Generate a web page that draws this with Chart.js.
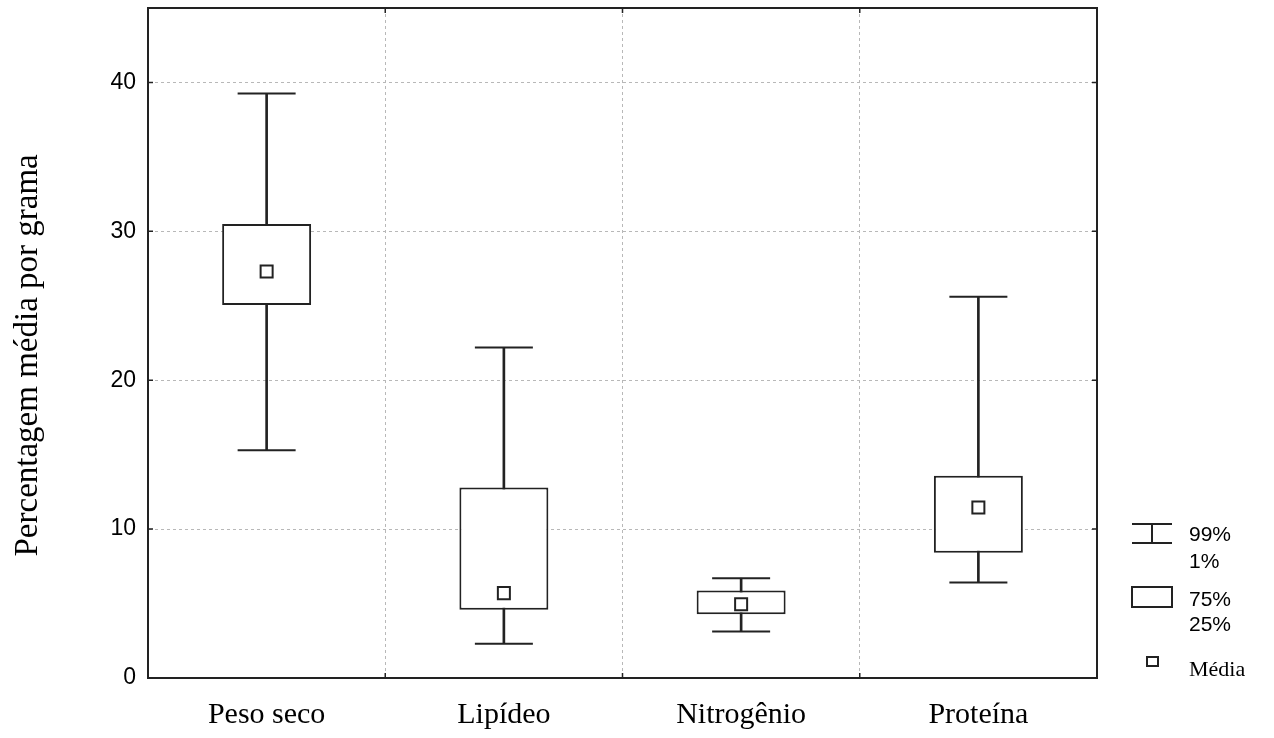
<!DOCTYPE html>
<html>
<head>
<meta charset="utf-8">
<title>Percentagem média por grama</title>
<script src="https://cdn.jsdelivr.net/npm/chart.js@4.4.1/dist/chart.umd.min.js"></script>
<style>
  html, body { margin: 0; padding: 0; background: #fff; }
  #wrap { position: relative; width: 1274px; height: 738px; }
</style>
</head>
<body>
<div id="wrap"><canvas id="box_chart"></canvas></div>
<script>
// Chart data
var categories = ['Peso seco', 'Lipídeo', 'Nitrogênio', 'Proteína'];
var p99 = [39.25, 22.2, 6.7, 25.6];
var q75 = [30.5, 12.8, 5.88, 13.58];
var means = [27.3, 5.7, 4.95, 11.45];
var q25 = [25.05, 4.58, 4.28, 8.42];
var p1 = [15.3, 2.3, 3.13, 6.42];
var yTicks = [0, 10, 20, 30, 40];

var ink = '#222';
var sansFont = '"Liberation Sans", Arial, sans-serif';
var serifFont = '"Liberation Serif", "Times New Roman", serif';

// Frame, inward tick marks and the legend
var framePlugin = {
  id: 'frame',
  afterDraw: function (chart) {
    var ctx = chart.ctx;
    var a = chart.chartArea;
    var xs = chart.scales.x;
    var ys = chart.scales.y;
    ctx.save();
    ctx.strokeStyle = ink;
    ctx.lineWidth = 2;
    ctx.strokeRect(a.left, a.top, a.right - a.left, a.bottom - a.top);

    // tick marks
    ctx.lineWidth = 1.5;
    ctx.beginPath();
    yTicks.forEach(function (v) {
      var y = ys.getPixelForValue(v);
      ctx.moveTo(a.left, y); ctx.lineTo(a.left + 5, y);
      ctx.moveTo(a.right, y); ctx.lineTo(a.right - 5, y);
    });
    for (var i = 1; i < categories.length; i++) {
      var x = (xs.getPixelForValue(i - 1) + xs.getPixelForValue(i)) / 2;
      ctx.moveTo(x, a.top); ctx.lineTo(x, a.top + 5);
      ctx.moveTo(x, a.bottom); ctx.lineTo(x, a.bottom - 5);
    }
    ctx.stroke();

    // legend
    var gx = a.right + 35;
    var gw = 40;
    var tx = a.right + 92;
    ctx.lineWidth = 2;
    ctx.beginPath();
    ctx.moveTo(gx, 524); ctx.lineTo(gx + gw, 524);
    ctx.moveTo(gx, 543); ctx.lineTo(gx + gw, 543);
    ctx.moveTo(gx + 20, 524); ctx.lineTo(gx + 20, 543);
    ctx.stroke();
    ctx.strokeRect(gx, 587, gw, 20);
    ctx.strokeRect(gx + 15, 657, 11, 9);

    ctx.fillStyle = '#000';
    ctx.textBaseline = 'middle';
    ctx.textAlign = 'left';
    ctx.font = '21px ' + sansFont;
    ctx.fillText('99%', tx, 535);
    ctx.fillText('1%', tx, 562);
    ctx.fillText('75%', tx, 600);
    ctx.fillText('25%', tx, 625);
    ctx.font = '22px ' + serifFont;
    ctx.fillText('Média', tx, 670);
    ctx.restore();
  }
};

function pairs(lo, hi) {
  return lo.map(function (v, i) { return [v, hi[i]]; });
}

var ctx = document.getElementById('box_chart');

var config = {
  type: 'bar',
  data: {
    labels: categories,
    datasets: [{
      label: '1% - 99%',
      data: pairs(p1, p99),
      backgroundColor: ink,
      borderWidth: 0,
      barThickness: 2,
      grouped: false,
      order: 4
    }, {
      label: '25% - 75%',
      data: pairs(q25, q75),
      backgroundColor: '#fff',
      borderColor: ink,
      borderWidth: 2,
      borderSkipped: false,
      categoryPercentage: 1,
      barPercentage: 0.375,
      grouped: false,
      order: 3
    }, {
      type: 'line',
      label: '99%',
      data: p99,
      showLine: false,
      pointStyle: 'line',
      pointRadius: 29,
      pointHoverRadius: 29,
      pointBorderWidth: 2,
      borderColor: ink,
      order: 2
    }, {
      type: 'line',
      label: '1%',
      data: p1,
      showLine: false,
      pointStyle: 'line',
      pointRadius: 29,
      pointHoverRadius: 29,
      pointBorderWidth: 2,
      borderColor: ink,
      order: 2
    }, {
      type: 'line',
      label: 'Média',
      data: means,
      showLine: false,
      pointStyle: 'rect',
      pointRadius: 8.5,
      pointHoverRadius: 8.5,
      pointBorderWidth: 2,
      pointBackgroundColor: '#fff',
      pointBorderColor: ink,
      order: 1
    }]
  },
  options: {
    responsive: false,
    animation: false,
    events: [],
    layout: {
      autoPadding: false,
      padding: { top: 8, right: 177, left: 0, bottom: 0 }
    },
    plugins: {
      legend: { display: false },
      tooltip: { enabled: false },
      title: { display: false }
    },
    scales: {
      x: {
        offset: true,
        grid: {
          offset: true,
          color: '#b8b8b8',
          lineWidth: 1,
          drawTicks: false
        },
        border: { color: ink, width: 2, dash: [3, 3] },
        ticks: {
          color: '#000',
          padding: 19,
          font: { family: serifFont, size: 30 }
        },
        afterFit: function (scale) {
          scale.height = 60;
          scale.paddingLeft = 0;
          scale.paddingRight = 0;
        }
      },
      y: {
        min: 0,
        max: 45,
        grid: {
          color: '#b8b8b8',
          lineWidth: 1,
          drawTicks: false
        },
        border: { color: ink, width: 2, dash: [3, 3] },
        ticks: {
          stepSize: 10,
          includeBounds: false,
          color: '#000',
          padding: 12,
          font: { family: sansFont, size: 23 }
        },
        title: {
          display: true,
          // trailing spaces nudge the rotated title down a little
          text: 'Percentagem média por grama\u00a0\u00a0\u00a0',
          color: '#000',
          padding: { top: 9, bottom: 0 },
          font: { family: serifFont, size: 33, weight: 'normal' }
        },
        afterFit: function (scale) {
          scale.width = 148;
          scale.paddingTop = 0;
          scale.paddingBottom = 0;
        }
      }
    }
  },
  plugins: [framePlugin]
};

ctx.width = 1274;
ctx.height = 738;
var boxChart = new Chart(ctx, config);
</script>
</body>
</html>
